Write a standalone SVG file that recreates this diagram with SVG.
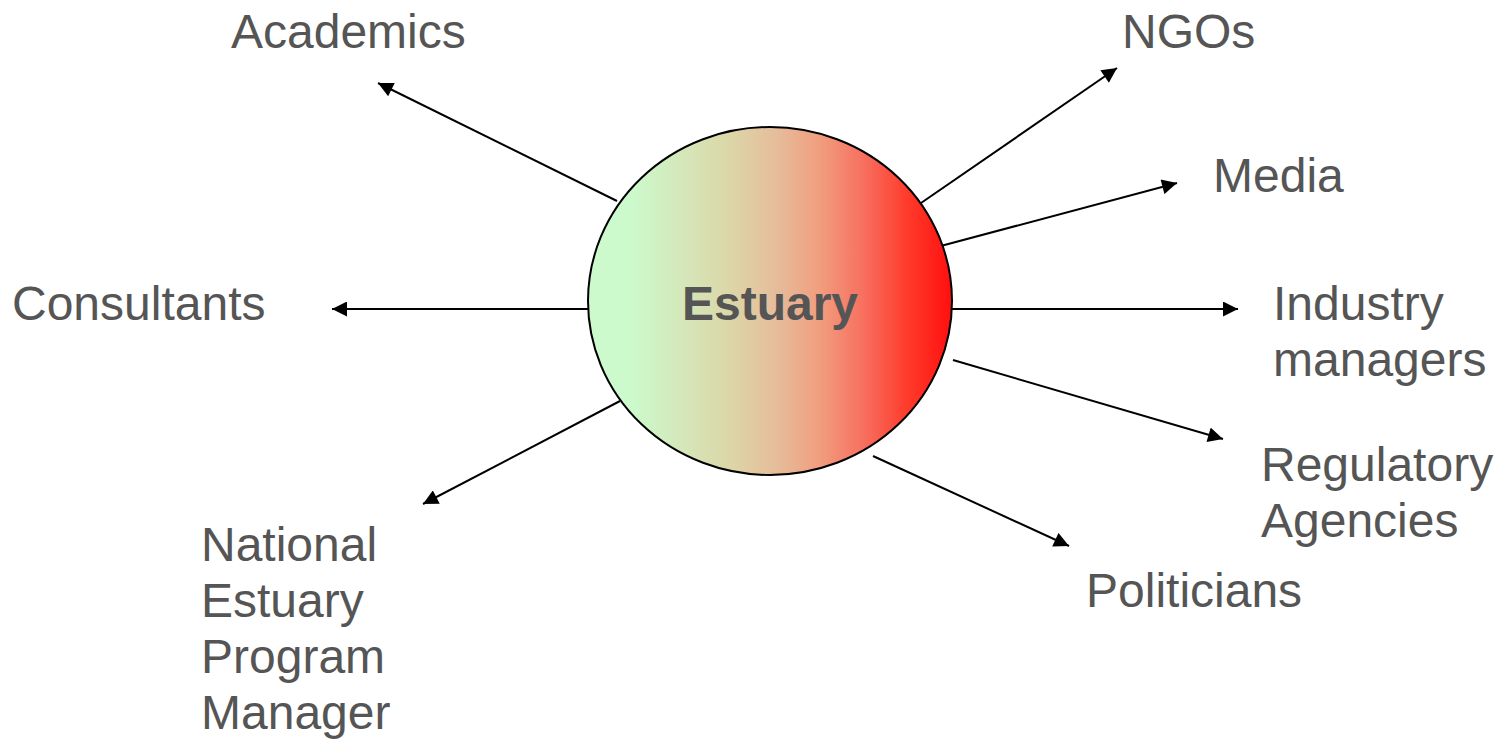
<svg xmlns="http://www.w3.org/2000/svg" width="1501" height="743" viewBox="0 0 1501 743">
  <style>
    .lbl { font-family: "Liberation Sans", Arial, sans-serif; font-size: 48px; fill: #555555; }
    .hub { font-family: "Liberation Sans", Arial, sans-serif; font-size: 48px; font-weight: bold; fill: #555555; }
    .link { stroke: #000000; stroke-width: 2; fill: none; marker-end: url(#head); }
  </style>
  <defs>
    <!-- green-to-red horizontal fill of the estuary disc -->
    <linearGradient id="warm" x1="0" y1="0" x2="1" y2="0">
      <stop offset="0.12" stop-color="#ccfacc"/>
      <stop offset="0.39" stop-color="#dcd6a8"/>
      <stop offset="0.52" stop-color="#e6bc9a"/>
      <stop offset="0.63" stop-color="#f0a080"/>
      <stop offset="0.755" stop-color="#f77060"/>
      <stop offset="0.88" stop-color="#ff3a2a"/>
      <stop offset="1" stop-color="#ff0f0f"/>
    </linearGradient>
    <marker id="head" viewBox="0 0 10 10" refX="10" refY="5" markerWidth="16" markerHeight="15" markerUnits="userSpaceOnUse" orient="auto">
      <path d="M0,0 L10,5 L0,10 Z" fill="#000000"/>
    </marker>
  </defs>

  <g id="connectors">
    <line class="link" x1="617" y1="201" x2="378" y2="83"/>
    <line class="link" x1="588" y1="309" x2="332" y2="309"/>
    <line class="link" x1="620" y1="401" x2="423" y2="504"/>
    <line class="link" x1="921" y1="203" x2="1117" y2="68"/>
    <line class="link" x1="937" y1="247" x2="1177" y2="183"/>
    <line class="link" x1="952" y1="309" x2="1238" y2="309"/>
    <line class="link" x1="953" y1="360" x2="1223" y2="439"/>
    <line class="link" x1="873" y1="456" x2="1069" y2="546"/>
  </g>

  <g id="estuary">
    <ellipse cx="770" cy="301" rx="182" ry="174" fill="url(#warm)" stroke="#000000" stroke-width="2"/>
    <text class="hub" x="770" y="320" text-anchor="middle">Estuary</text>
  </g>

  <g id="academics"><text class="lbl" x="231" y="48">Academics</text></g>
  <g id="ngos"><text class="lbl" x="1122" y="48">NGOs</text></g>
  <g id="media"><text class="lbl" x="1213" y="192">Media</text></g>
  <g id="consultants"><text class="lbl" x="12" y="320">Consultants</text></g>
  <g id="industry-managers">
    <text class="lbl" x="1273" y="320">Industry</text>
    <text class="lbl" x="1273" y="376">managers</text>
  </g>
  <g id="regulatory-agencies">
    <text class="lbl" x="1261" y="481">Regulatory</text>
    <text class="lbl" x="1261" y="537">Agencies</text>
  </g>
  <g id="politicians"><text class="lbl" x="1086" y="607">Politicians</text></g>
  <g id="nep-manager">
    <text class="lbl" x="201" y="561">National</text>
    <text class="lbl" x="201" y="617">Estuary</text>
    <text class="lbl" x="201" y="673">Program</text>
    <text class="lbl" x="201" y="729">Manager</text>
  </g>
</svg>
